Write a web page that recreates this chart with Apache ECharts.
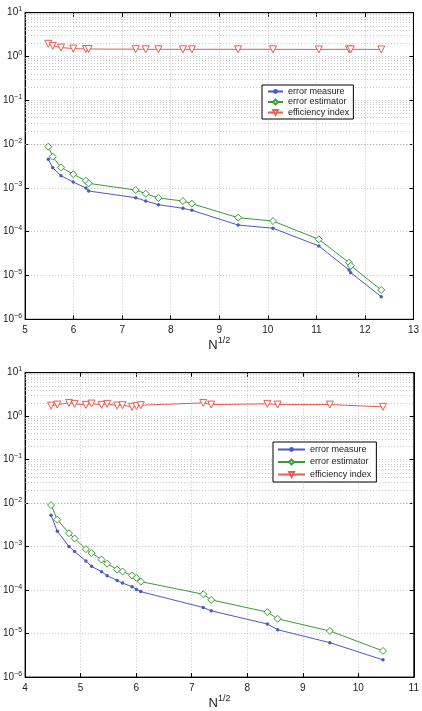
<!DOCTYPE html>
<html><head><meta charset="utf-8">
<script src="https://cdn.jsdelivr.net/npm/echarts@6/dist/echarts.min.js"></script>
<style>html,body{margin:0;padding:0;background:#fff}#c{width:422px;height:711px}</style>
</head><body><div id="c"></div>
<script>
// ---- top panel data ----
const xTop = [5.478, 5.569, 5.739, 5.992, 6.253, 6.308, 7.279, 7.485, 7.746, 8.251, 8.436, 9.388, 10.107, 11.051, 11.674, 11.709, 12.337];
const measureTop = [4.5e-3, 2.89e-3, 1.90e-3, 1.36e-3, 9.95e-4, 8.5e-4, 5.97e-4, 5.02e-4, 4.13e-4, 3.42e-4, 3.08e-4, 1.42e-4, 1.20e-4, 4.72e-5, 1.34e-5, 1.16e-5, 3.28e-6];
const estimatorTop = [8.73e-3, 5.16e-3, 2.95e-3, 2.05e-3, 1.46e-3, 1.27e-3, 8.95e-4, 7.38e-4, 5.88e-4, 5.02e-4, 4.36e-4, 2.09e-4, 1.75e-4, 6.7e-5, 1.96e-5, 1.67e-5, 4.67e-6];
const efficiencyTop = [1.95, 1.75, 1.6, 1.52, 1.48, 1.48, 1.47, 1.46, 1.46, 1.46, 1.46, 1.46, 1.46, 1.45, 1.46, 1.46, 1.45];
// ---- bottom panel data ----
const xBottom = [4.467, 4.580, 4.790, 4.892, 5.095, 5.197, 5.377, 5.478, 5.657, 5.754, 5.926, 6.005, 6.083, 7.208, 7.352, 8.363, 8.548, 9.488, 10.445];
const measureBottom = [5.26e-3, 2.26e-3, 1.01e-3, 7.69e-4, 4.66e-4, 3.52e-4, 2.65e-4, 2.15e-4, 1.67e-4, 1.45e-4, 1.20e-4, 1.04e-4, 9.24e-5, 3.98e-5, 3.34e-5, 1.66e-5, 1.23e-5, 6.19e-6, 2.49e-6];
const estimatorBottom = [9.06e-3, 4.19e-3, 2.04e-3, 1.54e-3, 8.77e-4, 7.10e-4, 5.05e-4, 4.06e-4, 2.98e-4, 2.68e-4, 2.18e-4, 1.92e-4, 1.57e-4, 8.05e-5, 5.97e-5, 3.12e-5, 2.19e-5, 1.15e-5, 4.0e-6];
const efficiencyBottom = [1.75, 1.85, 2.02, 1.92, 1.82, 1.95, 1.82, 1.92, 1.75, 1.79, 1.64, 1.70, 1.79, 2.02, 1.85, 1.92, 1.85, 1.85, 1.64];
// ---- axes ----
const seriesNames = ['error measure', 'error estimator', 'efficiency index'];
const xRangeTop = [5, 13];
const xRangeBottom = [4, 11];
const yRange = [1e-6, 10];
const minorMultipliers = [2, 3, 4, 5, 6, 7, 8, 9];
const decadeExponents = [-6, -5, -4, -3, -2, -1, 0];

const colors = {measure: '#4b5bbd', estimator: '#3a9a3a', efficiency: '#ea5a50'};
const FONT = 'Liberation Sans, Arial, Helvetica, sans-serif';
const gridLine = {color: '#b8b8b8', width: 0.8, type: [1, 2]};

const minorValues = [];
decadeExponents.forEach(e => minorMultipliers.forEach(m => minorValues.push(m * Math.pow(10, e))));

function yLabel(v) {
  const e = Math.round(Math.log10(v));
  return '{a|10}{b|' + (e < 0 ? '\u2212' + (-e) : e) + '}';
}
const yRich = {
  a: {fontSize: 10, color: '#222', fontFamily: FONT},
  b: {fontSize: 7, color: '#222', fontFamily: FONT, padding: [0, 0, 7, 0]}
};

const grids = [
  {left: 25, top: 12.7, width: 390, height: 306.6, show: true, borderColor: '#000', borderWidth: 1, backgroundColor: '#fff'},
  {left: 25, top: 372.7, width: 390, height: 305.6, show: true, borderColor: '#000', borderWidth: 1, backgroundColor: '#fff'}
];

function xAxisMain(gi, range) {
  return {
    type: 'value', gridIndex: gi, min: range[0], max: range[1], interval: 1, position: 'bottom',
    axisLine: {lineStyle: {color: '#000', width: 1}},
    axisTick: {inside: true, length: 4, lineStyle: {color: '#000'}},
    axisLabel: {fontSize: 10, color: '#222', fontFamily: FONT, margin: 6},
    splitLine: {show: true, lineStyle: gridLine},
    name: '{n|N}{s|1/2}', nameLocation: 'middle', nameGap: 15,
    nameTextStyle: {rich: {n: {fontSize: 13, color: '#222', fontFamily: FONT}, s: {fontSize: 9, color: '#222', fontFamily: FONT, padding: [0, 0, 10, 0]}}}
  };
}
function xAxisTop(gi, range) {
  return {
    type: 'value', gridIndex: gi, min: range[0], max: range[1], interval: 1, position: 'top',
    axisLine: {lineStyle: {color: '#000'}}, axisTick: {inside: true, length: 4, lineStyle: {color: '#000'}},
    axisLabel: {show: false}, splitLine: {show: false}
  };
}
function yAxisMain(gi) {
  return {
    type: 'log', logBase: 10, gridIndex: gi, min: yRange[0], max: yRange[1], splitNumber: 7, position: 'left',
    axisLine: {lineStyle: {color: '#000'}},
    axisTick: {inside: true, length: 4, lineStyle: {color: '#000'}},
    axisLabel: {formatter: yLabel, rich: yRich, margin: 3},
    splitLine: {show: true, lineStyle: gridLine}
  };
}
function yAxisRight(gi) {
  return {
    type: 'log', logBase: 10, gridIndex: gi, min: yRange[0], max: yRange[1], splitNumber: 7, position: 'right',
    axisLine: {lineStyle: {color: '#000'}}, axisTick: {inside: true, length: 4, lineStyle: {color: '#000'}},
    axisLabel: {show: false}, splitLine: {show: false}
  };
}

function makeSeries(gi, xs, meas, est, eff) {
  const pair = arr => xs.map((x, i) => [x, arr[i]]);
  return [
    {
      name: seriesNames[0], type: 'line', xAxisIndex: gi * 2, yAxisIndex: gi * 2, data: pair(meas),
      symbol: 'circle', symbolSize: 3.5, itemStyle: {color: colors.measure}, lineStyle: {color: colors.measure, width: 1},
      animation: false, z: 3,
      markLine: {
        silent: true, symbol: 'none', label: {show: false}, z: 1, animation: false,
        lineStyle: gridLine, emphasis: {disabled: true},
        data: minorValues.map(v => ({yAxis: v}))
      }
    },
    {
      name: seriesNames[1], type: 'line', xAxisIndex: gi * 2, yAxisIndex: gi * 2, data: pair(est),
      symbol: 'diamond', symbolSize: 7, itemStyle: {color: '#fff', borderColor: colors.estimator, borderWidth: 1},
      lineStyle: {color: colors.estimator, width: 1}, animation: false, z: 3
    },
    {
      name: seriesNames[2], type: 'line', xAxisIndex: gi * 2, yAxisIndex: gi * 2, data: pair(eff),
      symbol: 'triangle', symbolRotate: 180, symbolSize: 7, itemStyle: {color: '#fff', borderColor: colors.efficiency, borderWidth: 1},
      lineStyle: {color: colors.efficiency, width: 1}, animation: false, z: 3
    }
  ];
}

const legendBase = {
  orient: 'vertical', borderColor: '#000', borderWidth: 1, backgroundColor: '#fff', selectedMode: false, z: 10,
  data: seriesNames
};

const chart = echarts.init(document.getElementById('c'), null, {renderer: 'canvas'});
chart.setOption({
  animation: false,
  backgroundColor: '#fff',
  textStyle: {fontFamily: FONT},
  grid: grids,
  xAxis: [xAxisMain(0, xRangeTop), xAxisTop(0, xRangeTop), xAxisMain(1, xRangeBottom), xAxisTop(1, xRangeBottom)],
  yAxis: [yAxisMain(0), yAxisRight(0), yAxisMain(1), yAxisRight(1)],
  legend: [
    Object.assign({}, legendBase, {left: 262, top: 85, itemWidth: 15, itemHeight: 6, itemGap: 1.5, padding: [2, 4, 2, 5],
      textStyle: {fontSize: 9, color: '#222', fontFamily: FONT}}),
    Object.assign({}, legendBase, {left: 273, top: 442, itemWidth: 27, itemHeight: 6, itemGap: 3.5, padding: [3, 5, 3, 4],
      textStyle: {fontSize: 9, color: '#222', fontFamily: FONT}})
  ],
  series: [].concat(
    makeSeries(0, xTop, measureTop, estimatorTop, efficiencyTop),
    makeSeries(1, xBottom, measureBottom, estimatorBottom, efficiencyBottom)
  )
});
</script></body></html>
